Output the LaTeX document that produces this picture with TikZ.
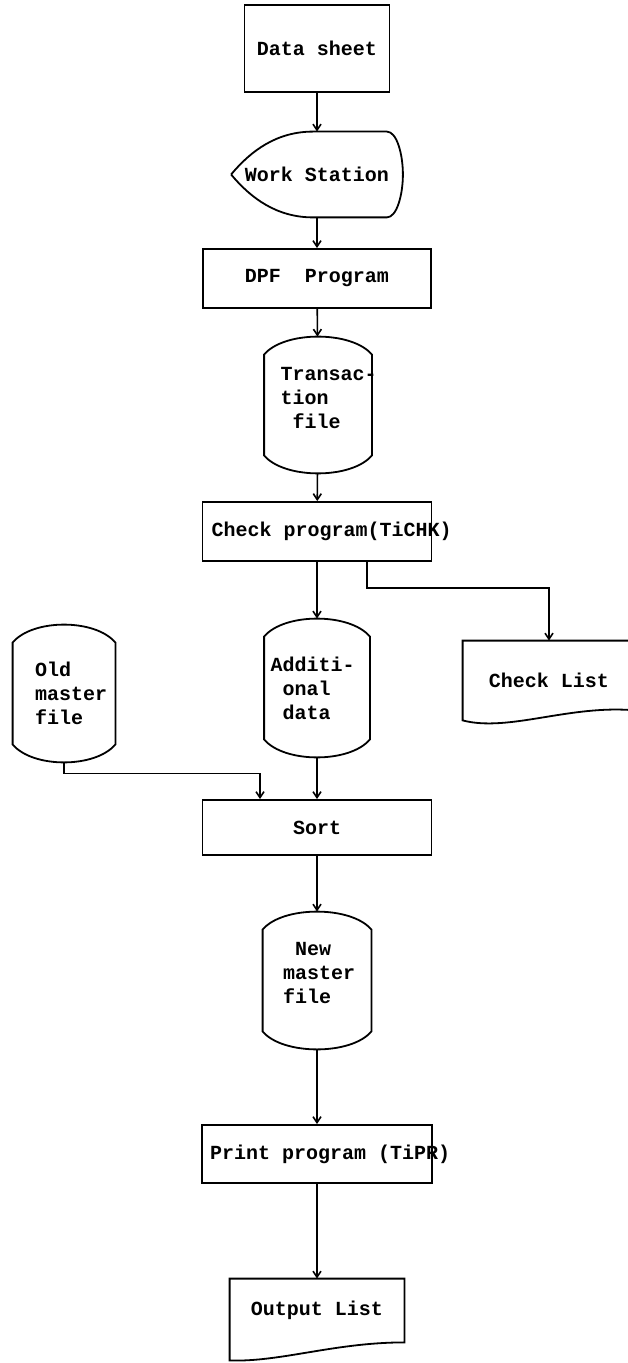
\documentclass[tikz,border=0pt]{standalone}
\usepackage{fontspec}
\setmonofont{Liberation Mono}
\usetikzlibrary{arrows.meta, calc}

\tikzset{
  prog/.style={draw, rectangle, line width=.9pt, inner sep=0pt},
  store/.style={rectangle, inner sep=0pt, align=left},
  flow/.style={->, line width=.8pt},
}
% outline of a file symbol round node #1
\newcommand{\fileoutline}[1]{%
  \draw[line width=.9pt] ([yshift=-9pt]#1.north west)
    .. controls ([xshift=10pt,yshift=3pt]#1.north west) and ([xshift=-10pt,yshift=3pt]#1.north east) .. ([yshift=-9pt]#1.north east)
    -- ([yshift=9pt]#1.south east)
    .. controls ([xshift=-10pt,yshift=-3pt]#1.south east) and ([xshift=10pt,yshift=-3pt]#1.south west) .. ([yshift=9pt]#1.south west) -- cycle;}

\begin{document}
\begin{tikzpicture}[x=0.5pt, y=-0.5pt, >={Straight Barb[length=3pt,width=4pt]}, font=\ttfamily\bfseries]
  \useasboundingbox (0,0) rectangle (627,1363);

  \node[prog, minimum width=72.5pt, minimum height=43.5pt] (sheet) at (317,48.5) {Data sheet};
  \node[store, minimum width=85.5pt, minimum height=42.5pt] (station) at (317,174.5) {Work Station};
  \node[prog, minimum width=114pt, minimum height=29.5pt] (dpf) at (317,278.5) {DPF\ \ Program};
  \node[store, minimum width=53.5pt, minimum height=68pt, text width=37.5pt, inner xsep=8pt, text depth=31pt] (trans) at (318,405) {\mbox{Transac-}\\tion\\\hspace*{6pt}file};
  \node[prog, inner xsep=4.5pt, minimum height=29.5pt] (check) at (317,531.5) {\makebox[105.5pt][l]{Check program(TiCHK)}};
  \node[store, minimum width=86pt, minimum height=39.5pt] (chklist) at (549,680.5) {Check List};
  \node[store, minimum width=52.5pt, minimum height=69pt, text width=46.5pt, inner xsep=3pt] (addl) at (317,688) {Additi-\\\hspace*{6pt}onal\\\hspace*{6pt}data};
  \node[store, minimum width=51pt, minimum height=68.5pt, text width=29pt, inner xsep=11pt] (oldm) at (64,693.5) {Old\\\mbox{master}\\file};
  \node[prog, minimum width=114.5pt, minimum height=27.5pt] (sort) at (317,827.5) {Sort};
  \node[store, minimum width=54pt, minimum height=68.5pt, text width=34pt, inner xsep=10pt, text depth=32pt] (newm) at (317,980.5) {\hspace*{6pt}New\\\mbox{master}\\file};
  \node[prog, inner xsep=4pt, minimum height=29pt] (print) at (317,1154) {\makebox[107pt][l]{Print program (TiPR)}};
  \node[store, minimum width=87pt, minimum height=31.5pt] (outlist) at (317,1310.5) {Output List};

  % symbol outlines
  \draw[line width=.9pt] (station.west)
    .. controls ([xshift=10pt,yshift=12pt]station.west) and ([xshift=-20pt]station.north) .. ([xshift=-2pt]station.north)
    -- ([xshift=-8pt]station.north east)
    .. controls ([xshift=-3pt]station.north east) and ([yshift=10pt]station.east) .. (station.east)
    .. controls ([yshift=-10pt]station.east) and ([xshift=-3pt]station.south east) .. ([xshift=-8pt]station.south east)
    -- ([xshift=-2pt]station.south)
    .. controls ([xshift=-20pt]station.south) and ([xshift=10pt,yshift=-12pt]station.west) .. (station.west);
  \fileoutline{trans}
  \fileoutline{addl}
  \fileoutline{oldm}
  \fileoutline{newm}
  \draw[line width=.9pt] (chklist.north east) -- (chklist.north west) -- (chklist.south west)
    .. controls ([xshift=23pt,yshift=-6pt]chklist.south west) and ([xshift=-33pt,yshift=8pt]chklist.south east) .. ([yshift=5pt]chklist.south east) -- cycle;
  \draw[line width=.9pt] (outlist.north east) -- (outlist.north west) -- ([yshift=-9pt]outlist.south west)
    .. controls ([xshift=25pt,yshift=-10pt]outlist.south west) and ([xshift=-35pt]outlist.south east) .. (outlist.south east) -- cycle;

  % connectors
  \draw[flow] (sheet) -- (station);
  \draw[flow] (station) -- (dpf);
  \draw[flow] (dpf) -- (trans);
  \draw[flow] (trans) -- (check);
  \draw[flow] (check) -- (addl);
  \draw[flow] ([xshift=25pt]check.south) -- ++(0,26) -| (chklist.north);
  \draw[flow] (oldm.south) -- ++(0,11) -| ([xshift=-28.5pt]sort.north);
  \draw[flow] (addl) -- (sort);
  \draw[flow] (sort) -- (newm);
  \draw[flow] (newm) -- (print);
  \draw[flow] (print) -- (outlist);
\end{tikzpicture}
\end{document}
